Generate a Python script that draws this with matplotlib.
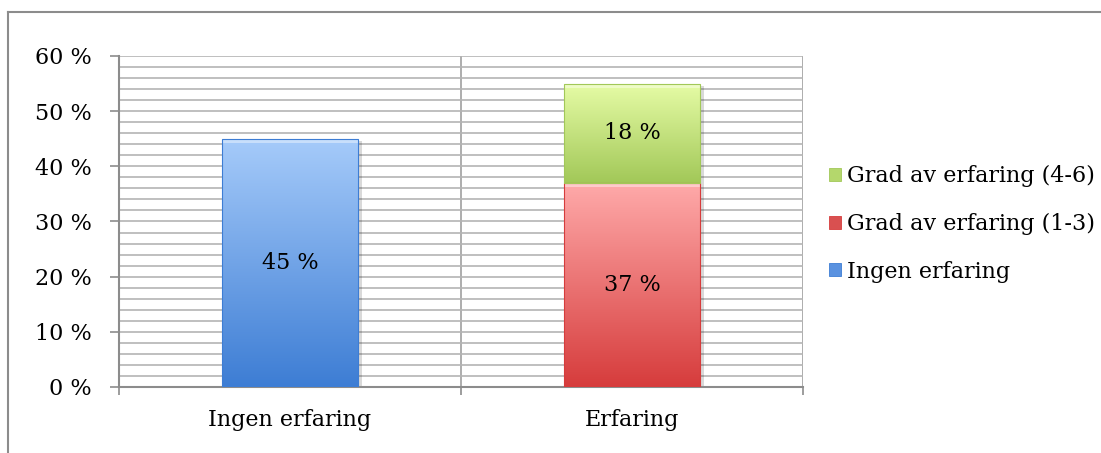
import numpy as np
import matplotlib
matplotlib.use("Agg")
import matplotlib.pyplot as plt
from matplotlib.patches import Rectangle, Patch
from matplotlib.colors import LinearSegmentedColormap
from matplotlib.lines import Line2D

categories = ["Ingen erfaring", "Erfaring"]
series_names = ["Ingen erfaring", "Grad av erfaring (1-3)", "Grad av erfaring (4-6)"]
ingen = [45, 0]
grad_1_3 = [0, 37]
grad_4_6 = [0, 18]
yticks = [0, 10, 20, 30, 40, 50, 60]

# top colour, bottom colour, legend colour
colors = {
    "Ingen erfaring": ("#a6cbfa", "#3d7dd4", "#5a92e0"),
    "Grad av erfaring (1-3)": ("#ffaaaa", "#d63c3c", "#d95050"),
    "Grad av erfaring (4-6)": ("#e6fca6", "#a2c858", "#b4d76c"),
}

plt.rcParams["font.family"] = ["DejaVu Serif"]
FS = 16

fig = plt.figure(figsize=(11.01, 4.53), dpi=100)
ax = fig.add_axes([0.1081, 0.1457, 0.6213, 0.7307])

# outer frame (top + left edge of the chart area)
fig.add_artist(Line2D([8 / 1101, 1.0], [1 - 12 / 453, 1 - 12 / 453], transform=fig.transFigure,
                      color="#8c8c8c", lw=1.5))
fig.add_artist(Line2D([8 / 1101, 8 / 1101], [0.0, 1 - 12 / 453], transform=fig.transFigure,
                      color="#8c8c8c", lw=1.5))

width = 0.4
x = np.arange(len(categories))


def grad_bar(xc, bottom, height, name):
    if height <= 0:
        return
    top_c, bot_c, _ = colors[name]
    cmap = LinearSegmentedColormap.from_list(name, [bot_c, top_c])
    x0 = xc - width / 2
    # drop shadow
    ax.add_patch(Rectangle((x0 + 0.01, bottom - 0.4), width, height, facecolor="#000000",
                           alpha=0.15, edgecolor="none", zorder=2))
    rect = Rectangle((x0, bottom), width, height, facecolor="none", edgecolor="none", zorder=3)
    ax.add_patch(rect)
    grad = np.linspace(0, 1, 256).reshape(-1, 1)
    im = ax.imshow(grad, cmap=cmap, extent=[x0, x0 + width, bottom, bottom + height],
                   origin="lower", aspect="auto", zorder=3, interpolation="bilinear")
    im.set_clip_path(rect)
    # bevel highlight on top, darker rim
    ax.add_patch(Rectangle((x0, bottom + height - 0.8), width, 0.8, facecolor="white",
                           alpha=0.4, edgecolor="none", zorder=4))
    ax.add_patch(Rectangle((x0, bottom), width, height, facecolor="none",
                           edgecolor=bot_c, lw=0.8, zorder=4))
    ax.text(xc, bottom + height / 2, f"{height} %", ha="center", va="center",
            fontsize=FS, color="black", zorder=5)


bottoms = np.zeros(len(categories))
for name, vals in zip(series_names, [ingen, grad_1_3, grad_4_6]):
    for i, v in enumerate(vals):
        grad_bar(x[i], bottoms[i], v, name)
    bottoms += np.array(vals)

ax.set_xlim(-0.5, 1.5)
ax.set_ylim(0, 60)

ax.set_yticks(yticks)
ax.set_yticklabels([f"{t} %" for t in yticks], fontsize=FS)
ax.set_yticks(np.arange(0, 61, 2), minor=True)
ax.tick_params(axis="y", which="major", length=6.5, width=1.2, color="#8c8c8c", pad=13)
ax.tick_params(axis="y", which="minor", length=0)

ax.set_xticks([-0.5, 0.5, 1.5])
ax.set_xticklabels([])
ax.set_xticks(x, minor=True)
ax.set_xticklabels(categories, minor=True, fontsize=FS)
ax.tick_params(axis="x", which="major", length=6, width=1.2, color="#8c8c8c")
ax.tick_params(axis="x", which="minor", length=0, pad=16)

ax.grid(True, axis="y", which="both", color="#b4b4b4", lw=1.2, zorder=0)
ax.grid(True, axis="x", which="major", color="#a0a0a0", lw=1.2, zorder=0)
ax.set_axisbelow(True)
for s in ["top", "right"]:
    ax.spines[s].set_visible(False)
for s in ["left", "bottom"]:
    ax.spines[s].set_color("#8c8c8c")
    ax.spines[s].set_linewidth(1.5)

handles = [Patch(facecolor=colors[n][2], edgecolor=colors[n][1], lw=0.6) for n in reversed(series_names)]
fig.legend(handles, list(reversed(series_names)), loc="center left",
           bbox_to_anchor=(829 / 1101, 1 - 224 / 453), frameon=False, fontsize=FS,
           handlelength=0.55, handleheight=0.55, handletextpad=0.25, labelspacing=1.15,
           borderaxespad=0, borderpad=0)

fig.savefig("out.png", dpi=100)
